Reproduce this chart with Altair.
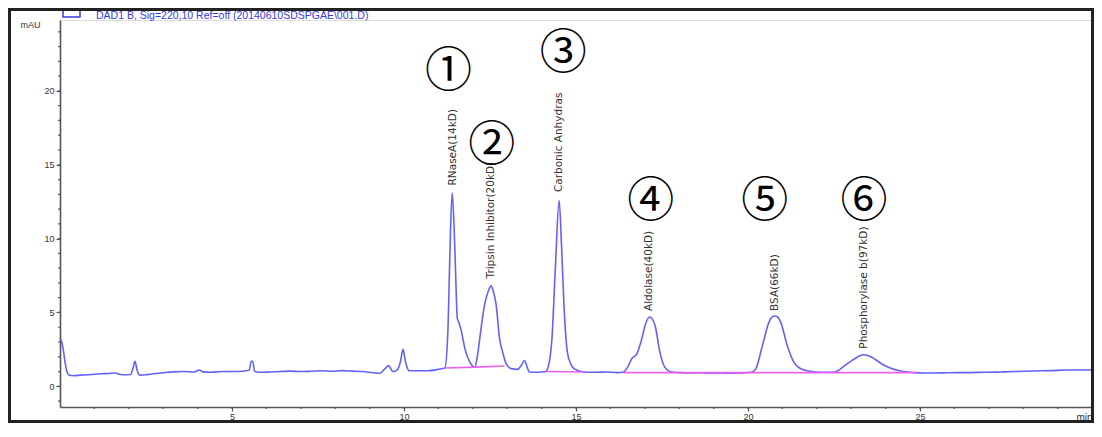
import altair as alt
import pandas as pd

# ---- chromatogram trace (retention time in min, absorbance in mAU) ----
time_min = [
    0.00, 0.05, 0.10, 0.15, 0.20, 0.27, 0.40, 0.60, 0.80, 1.00, 1.20, 1.40, 1.60, 1.75, 1.90,
    2.05, 2.12, 2.18, 2.24, 2.32, 2.50, 2.70, 3.00, 3.30, 3.60, 3.90, 4.05, 4.15, 4.40, 4.70,
    5.00, 5.30, 5.50, 5.56, 5.60, 5.66, 5.80, 6.10, 6.40, 6.70, 7.00, 7.30, 7.60, 7.90, 8.20,
    8.50, 8.80, 9.10, 9.30, 9.45, 9.55, 9.68, 9.80, 9.90, 9.97, 10.05, 10.15, 10.40, 10.70, 11.00,
    11.19, 11.28, 11.34, 11.40, 11.46, 11.50, 11.55, 11.60, 11.67, 11.77, 11.91, 12.06, 12.13, 12.20, 12.34,
    12.46, 12.53, 12.60, 12.68, 12.78, 12.87, 12.97, 13.11, 13.30, 13.42, 13.50, 13.58, 13.64, 13.90, 14.12,
    14.22, 14.30, 14.40, 14.51, 14.58, 14.65, 14.75, 14.85, 14.94, 15.23, 15.60, 15.90, 16.20, 16.38, 16.50,
    16.62, 16.77, 16.91, 17.02, 17.13, 17.22, 17.30, 17.44, 17.58, 17.78, 18.00, 18.30, 18.60, 18.90, 19.20,
    19.50, 19.80, 20.10, 20.23, 20.42, 20.61, 20.70, 20.79, 20.88, 20.95, 21.14, 21.33, 21.57, 21.96, 22.25,
    22.53, 22.82, 23.10, 23.35, 23.59, 23.88, 24.17, 24.40, 24.84, 25.10, 25.40, 25.80, 26.40, 26.90, 27.34,
    27.80, 28.30, 28.80, 29.25, 29.60, 30.00,
]
absorbance_mau = [
    3.20, 3.00, 2.40, 1.60, 1.00, 0.75, 0.72, 0.76, 0.78, 0.82, 0.85, 0.87, 0.90, 0.80, 0.78,
    0.80, 1.20, 1.70, 1.10, 0.76, 0.78, 0.85, 0.92, 0.98, 1.00, 0.97, 1.10, 0.98, 0.95, 1.00,
    1.00, 1.02, 1.10, 1.70, 1.70, 1.00, 0.95, 0.97, 1.00, 1.03, 1.00, 1.02, 1.05, 1.02, 1.06,
    1.03, 1.00, 0.92, 0.88, 1.20, 1.40, 1.00, 1.10, 1.70, 2.50, 1.60, 1.05, 1.05, 1.05, 1.15,
    1.25, 4.00, 9.50, 13.10, 10.50, 7.70, 4.60, 4.30, 3.70, 2.55, 1.65, 1.30, 2.00, 3.20, 5.50,
    6.50, 6.80, 6.40, 5.50, 3.20, 2.30, 1.53, 1.20, 1.15, 1.45, 1.75, 1.30, 0.97, 0.95, 1.00,
    1.60, 3.20, 8.00, 12.60, 9.50, 5.50, 2.30, 1.50, 1.20, 0.97, 0.95, 0.97, 0.93, 0.97, 1.30,
    1.87, 2.20, 3.20, 4.20, 4.69, 4.55, 4.10, 2.30, 1.30, 0.97, 0.93, 0.90, 0.92, 0.88, 0.90,
    0.88, 0.90, 0.95, 1.20, 2.77, 4.35, 4.70, 4.76, 4.65, 4.35, 2.77, 1.65, 1.15, 0.97, 0.95,
    0.97, 1.42, 1.87, 2.14, 1.98, 1.53, 1.20, 1.05, 0.93, 0.90, 0.90, 0.92, 0.93, 0.95, 0.97,
    1.00, 1.04, 1.06, 1.10, 1.10, 1.12,
]

# ---- integration baselines (pink) ----
baseline_segment = ["a", "a", "a", "b", "b", "c", "c"]
baseline_time = [11.19, 12.06, 12.92, 14.12, 15.23, 16.38, 24.90]
baseline_mau = [1.24, 1.30, 1.38, 1.00, 0.97, 0.93, 0.93]

# ---- peak annotations ----
peak_names = ["RNaseA(14kD)", "Tripsin Inhibitor(20kD)", "Carbonic Anhydras",
              "Aldolase(40kD)", "BSA(66kD)", "Phosphorylase b(97kD)"]
peak_label_time = [11.41, 12.53, 14.50, 17.13, 20.79, 23.38]
peak_label_mau = [13.6, 7.3, 13.15, 5.1, 5.1, 2.55]

peak_numbers = ["①", "②", "③", "④", "⑤", "⑥"]
number_time = [11.29, 12.55, 14.63, 17.17, 20.49, 23.37]
number_mau = [21.3, 16.3, 22.5, 12.5, 12.5, 12.5]

# ---- axis ticks ----
x_major = [5, 10, 15, 20, 25]
y_major = [0, 5, 10, 15, 20]
x_minor = list(range(1, 30))
y_minor = list(range(-1, 25))

legend_text = "DAD1 B, Sig=220,10 Ref=off (20140610SDSPGAE\\001.D)"

W, H = 1032, 387
BLUE = "#4646f4"
AXIS_GRAY = "#555555"

trace_df = pd.DataFrame({"t": time_min, "v": absorbance_mau})
base_df = pd.DataFrame({"t": baseline_time, "v": baseline_mau, "seg": baseline_segment})
label_df = pd.DataFrame({"t": peak_label_time, "v": peak_label_mau, "name": peak_names})
num_df = pd.DataFrame({"t": number_time, "v": number_mau, "num": peak_numbers})
xminor_df = pd.DataFrame({"t": x_minor})
yminor_df = pd.DataFrame({"v": y_minor})
one_df = pd.DataFrame({"k": [0]})

xs = alt.Scale(domain=[0, 30], nice=False, zero=False)
ys = alt.Scale(domain=[-1.4, 24.8], nice=False, zero=False)

x_axis = alt.Axis(
    values=x_major, tickSize=4, tickColor=AXIS_GRAY, tickWidth=1.2,
    domainColor=AXIS_GRAY, domainWidth=1.6, grid=False,
    labelFont="Liberation Sans", labelFontSize=9, labelColor="#333333", labelPadding=1,
    title="min", titleX=W, titleY=5, titleAlign="right", titleBaseline="top",
    titleFont="Liberation Sans", titleFontSize=10, titleFontWeight="normal", titleColor="#333333",
)
y_axis = alt.Axis(
    values=y_major, tickSize=4, tickColor=AXIS_GRAY, tickWidth=1.2,
    domainColor=AXIS_GRAY, domainWidth=1.6, grid=False,
    labelFont="Liberation Sans", labelFontSize=9, labelColor="#333333", labelPadding=2,
    title="mAU", titleAngle=0, titleX=-20, titleY=4, titleAlign="right", titleBaseline="middle",
    titleFont="Liberation Sans", titleFontSize=9, titleFontWeight="normal", titleColor="#333333",
)

trace = alt.Chart(trace_df).mark_line(
    color=BLUE, strokeWidth=1.6, opacity=0.85, interpolate="monotone"
).encode(
    x=alt.X("t:Q", scale=xs, axis=x_axis),
    y=alt.Y("v:Q", scale=ys, axis=y_axis),
)

minor_x = alt.Chart(xminor_df).mark_rule(color=AXIS_GRAY, strokeWidth=1.2).encode(
    x=alt.X("t:Q", scale=xs), y=alt.value(H), y2=alt.value(H + 2)
)
minor_y = alt.Chart(yminor_df).mark_rule(color=AXIS_GRAY, strokeWidth=1.2).encode(
    y=alt.Y("v:Q", scale=ys), x=alt.value(-2), x2=alt.value(0)
)

baselines = alt.Chart(base_df).mark_line(color="#f060f0", strokeWidth=1.6).encode(
    x=alt.X("t:Q", scale=xs), y=alt.Y("v:Q", scale=ys), detail="seg:N"
)

labels = alt.Chart(label_df).mark_text(
    angle=270, align="left", baseline="middle", font="DejaVu Sans", fontSize=10.5, color="#333333"
).encode(x=alt.X("t:Q", scale=xs), y=alt.Y("v:Q", scale=ys), text="name:N")

numbers = alt.Chart(num_df).mark_text(
    align="center", baseline="middle", font="Noto Sans CJK JP", fontSize=47, color="#000000"
).encode(x=alt.X("t:Q", scale=xs), y=alt.Y("v:Q", scale=ys), text="num:N")

legend_box = alt.Chart(one_df).mark_rect(
    fillOpacity=0, stroke="#3a3ae0", strokeWidth=1.5
).encode(x=alt.value(3), x2=alt.value(20), y=alt.value(-14), y2=alt.value(-3))

legend_label = alt.Chart(one_df).mark_text(
    align="left", baseline="middle", font="Liberation Sans", fontSize=10.5, color="#3a3ae0"
).encode(x=alt.value(36), y=alt.value(-4), text=alt.value(legend_text))

frame = alt.Chart(one_df).mark_rect(
    fillOpacity=0, stroke="#222222", strokeWidth=3
).encode(x=alt.value(-50.5), x2=alt.value(W + 0.5), y=alt.value(-10.5), y2=alt.value(H + 14.5))

chart = alt.layer(
    trace, minor_x, minor_y, baselines, labels, numbers, legend_box, legend_label, frame
).properties(
    width=W, height=H,
    padding={"left": 52, "top": 12, "right": 2, "bottom": 16},
    autosize=alt.AutoSizeParams(type="none"),
).configure_view(stroke=None).configure(background="white")

chart.save("out.html", embed_options={"renderer": "svg", "actions": False})
